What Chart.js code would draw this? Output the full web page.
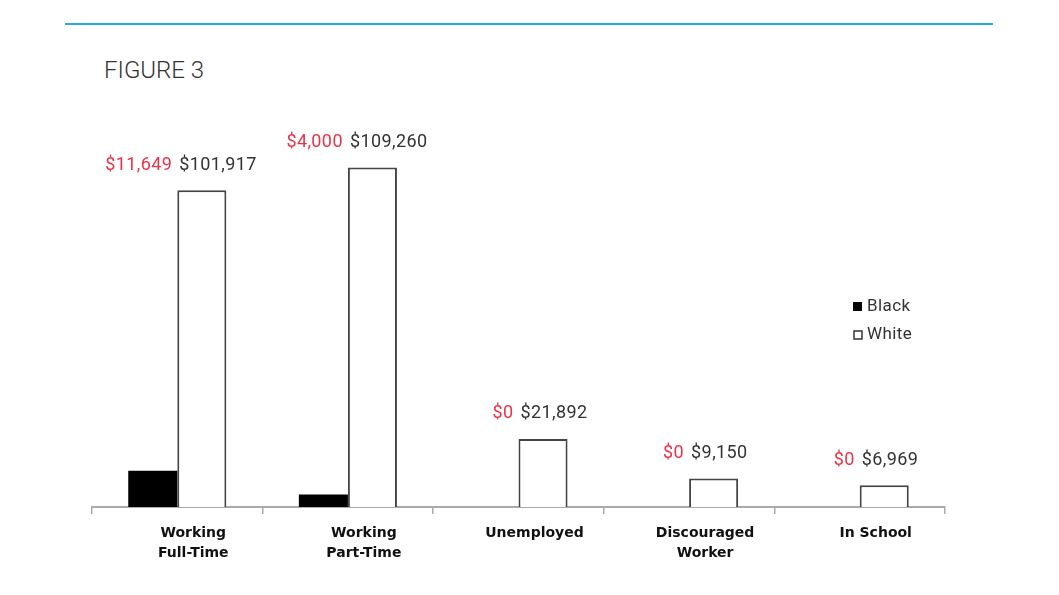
<!DOCTYPE html>
<html>
<head>
<meta charset="utf-8">
<script src="https://cdn.jsdelivr.net/npm/chart.js@4"></script>
<style>
    body { margin: 0; background: #fff; }
    #wrap { position: relative; width: 1059px; height: 595px; }
    #topline { position: absolute; left: 65px; top: 23px; width: 928px; height: 2px; background: #29abe2; }
    #fig { position: absolute; left: 104px; top: 56px; font: 300 24px Roboto, sans-serif; color: #333; }
    #chartBox { position: absolute; left: 0; top: 0; width: 1059px; height: 595px; }
</style>
</head>
<body>
<div id="wrap">
    <div id="topline"></div>
    <div id="fig">FIGURE 3</div>
    <div id="chartBox"><canvas id="wealthChart"></canvas></div>
</div>
<script>
// Median wealth by employment status
const categories = [['Working', 'Full-Time'], ['Working', 'Part-Time'], 'Unemployed', ['Discouraged', 'Worker'], 'In School'];
const blackValues = [11649, 4000, 0, 0, 0];
const whiteValues = [101917, 109260, 21892, 9150, 6969];
const blackLabels = ['$11,649', '$4,000', '$0', '$0', '$0'];
const whiteLabels = ['$101,917', '$109,260', '$21,892', '$9,150', '$6,969'];

// value labels above each pair + legend
const labelPlugin = {
    id: 'pairLabels',
    afterDatasetsDraw(chart) {
        const ctx = chart.ctx;
        const xs = chart.scales.x;
        const whiteMeta = chart.getDatasetMeta(1);
        ctx.save();
        ctx.font = '18px Roboto';
        ctx.letterSpacing = '0.4px';
        ctx.textBaseline = 'middle';
        whiteMeta.data.forEach((bar, i) => {
            const cx = xs.getPixelForValue(i);
            const y = bar.y - 25;
            ctx.fillStyle = '#e8344a';
            ctx.textAlign = 'right';
            ctx.fillText(blackLabels[i], cx - 5, y);
            ctx.fillStyle = '#333';
            ctx.textAlign = 'left';
            ctx.fillText(whiteLabels[i], cx + 2, y);
        });

        // legend
        ctx.textAlign = 'left';
        ctx.font = '17px Roboto';
        chart.data.datasets.forEach((ds, i) => {
            const y = 307 + i * 28;
            if (i === 0) {
                ctx.fillStyle = '#000';
                ctx.fillRect(853, y - 5, 9, 9);
            } else {
                ctx.strokeStyle = '#333';
                ctx.lineWidth = 1.5;
                ctx.strokeRect(854, y - 4, 8, 8);
            }
            ctx.fillStyle = '#333';
            ctx.fillText(ds.label, 867, y);
        });
        ctx.restore();
    }
};

new Chart(document.getElementById('wealthChart'), {
    type: 'bar',
    data: {
        labels: categories,
        datasets: [{
            label: 'Black',
            data: blackValues,
            backgroundColor: '#000',
            borderWidth: 0,
            categoryPercentage: 0.575,
            barPercentage: 1
        }, {
            label: 'White',
            data: whiteValues,
            backgroundColor: '#fff',
            borderColor: '#444',
            borderWidth: 2,
            categoryPercentage: 0.575,
            barPercentage: 1
        }]
    },
    plugins: [labelPlugin],
    options: {
        responsive: true,
        maintainAspectRatio: false,
        animation: false,
        layout: { padding: { left: 92, right: 114, top: 134, bottom: 0 } },
        scales: {
            x: {
                afterFit: s => { s.height = 88; },
                grid: { display: true, drawOnChartArea: false, drawTicks: true, tickLength: 7, color: '#aaa', lineWidth: 1.5 },
                border: { display: true, color: '#aaa', width: 2 },
                ticks: {
                    color: '#111',
                    padding: 9,
                    labelOffset: 16,
                    maxRotation: 0,
                    font: { family: 'DejaVu Sans', size: 14, weight: 'bold', lineHeight: 1.43 }
                }
            },
            y: {
                display: false,
                min: 0,
                max: 120000
            }
        },
        plugins: {
            legend: { display: false },
            tooltip: { enabled: false }
        }
    }
});
</script>
</body>
</html>
